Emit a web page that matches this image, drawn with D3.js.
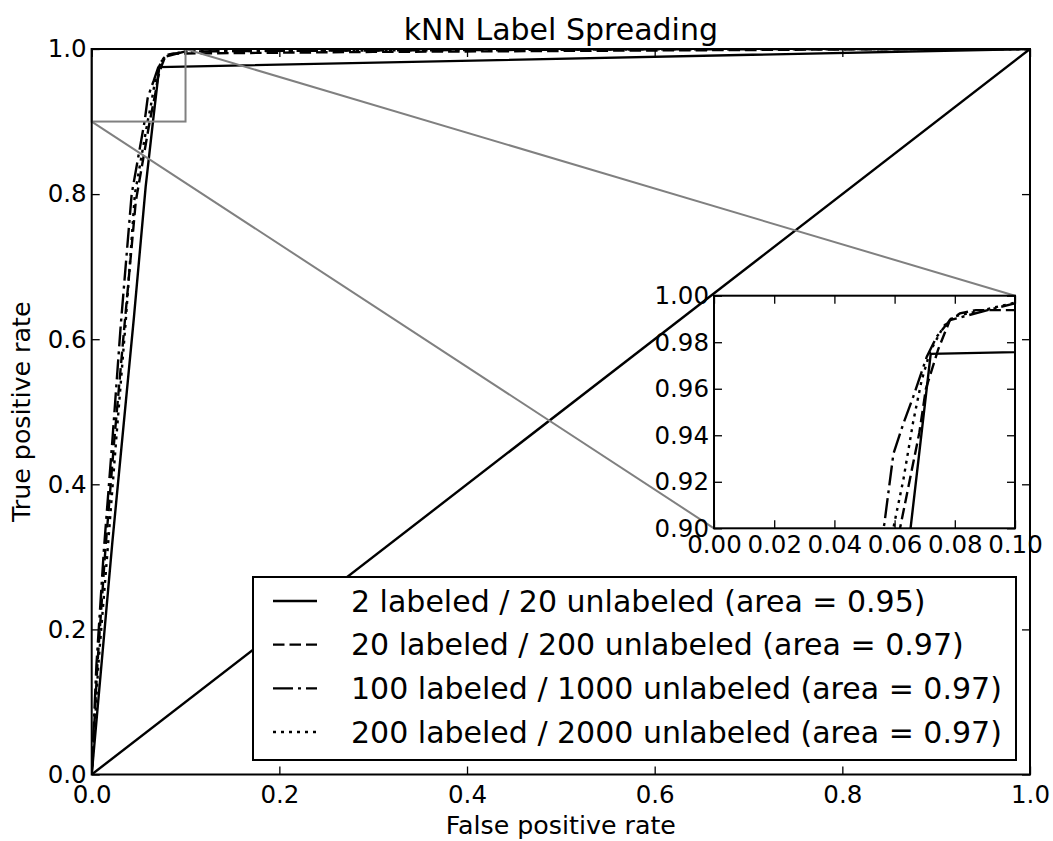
<!DOCTYPE html>
<html>
<head>
<meta charset="utf-8">
<script src="https://cdn.jsdelivr.net/npm/d3@7"></script>
<style>
  body { margin: 0; background: #fff; }
  svg { display: block; }
  text { font-family: "DejaVu Sans", sans-serif; fill: #000; }
</style>
</head>
<body>
<svg id="chart" width="1053" height="841"></svg>
<script>
// ---- data ----
let seriesLabels = [
  '2 labeled / 20 unlabeled (area = 0.95)',
  '20 labeled / 200 unlabeled (area = 0.97)',
  '100 labeled / 1000 unlabeled (area = 0.97)',
  '200 labeled / 2000 unlabeled (area = 0.97)'
]

let fpr2 = [0, 0.022, 0.045, 0.0575, 0.0653, 0.072, 1.0]
let tpr2 = [0, 0.32, 0.63, 0.81, 0.90, 0.975, 1.0]

let fpr20 = [0, 0.002, 0.006, 0.014, 0.024, 0.035, 0.047, 0.0618, 0.0682, 0.0704, 0.0745, 0.0784, 0.0817, 0.087, 0.1, 0.3, 0.6, 0.9, 1.0]
let tpr20 = [0, 0.05, 0.15, 0.30, 0.46, 0.62, 0.79, 0.90, 0.941, 0.96, 0.977, 0.9896, 0.9924, 0.9938, 0.9938, 0.996, 0.998, 1.0, 1.0]

let fpr100 = [0, 0.002, 0.005, 0.013, 0.022, 0.031, 0.0426, 0.0566, 0.0596, 0.0629, 0.0662, 0.0707, 0.074, 0.0784, 0.09, 0.1, 0.3, 0.6, 0.8, 1.0]
let tpr100 = [0, 0.06, 0.15, 0.31, 0.46, 0.62, 0.80, 0.902, 0.932, 0.945, 0.9566, 0.9738, 0.9824, 0.9895, 0.9935, 0.9967, 0.998, 0.9995, 1.0, 1.0]

let fpr200 = [0, 0.003, 0.007, 0.017, 0.026, 0.036, 0.046, 0.0599, 0.0629, 0.0662, 0.069, 0.0718, 0.0762, 0.0795, 0.09, 0.1, 0.3, 0.6, 0.8, 1.0]
let tpr200 = [0, 0.06, 0.15, 0.31, 0.46, 0.62, 0.80, 0.9021, 0.9208, 0.946, 0.9637, 0.976, 0.9867, 0.991, 0.994, 0.997, 0.998, 0.9995, 1.0, 1.0]

let mainTicks = [0, 0.2, 0.4, 0.6, 0.8, 1.0]
let insetXTicks = [0, 0.02, 0.04, 0.06, 0.08, 0.1]
let insetYTicks = [0.90, 0.92, 0.94, 0.96, 0.98, 1.00]

// ---- styles ----
let dashes = ['none', '11.5,5', '20,5,3,5', '3,5']
let lw = 2.4

let series = [
  {fpr: fpr2, tpr: tpr2},
  {fpr: fpr20, tpr: tpr20},
  {fpr: fpr100, tpr: tpr100},
  {fpr: fpr200, tpr: tpr200}
].map((s, i) => ({
  label: seriesLabels[i],
  dash: dashes[i],
  pts: s.fpr.map((f, j) => [f, s.tpr[j]])
}))

let svg = d3.select('#chart')

let M = {left: 91.7, right: 1030, top: 49, bottom: 774.5}
let I = {left: 714, right: 1015, top: 295.7, bottom: 528.3}

let x = d3.scaleLinear().domain([0, 1]).range([M.left, M.right])
let y = d3.scaleLinear().domain([0, 1]).range([M.bottom, M.top])
let ix = d3.scaleLinear().domain([0, 0.1]).range([I.left, I.right])
let iy = d3.scaleLinear().domain([0.9, 1]).range([I.bottom, I.top])

let defs = svg.append('defs')
defs.append('clipPath').attr('id', 'clipMain').append('rect')
  .attr('x', M.left).attr('y', M.top)
  .attr('width', M.right - M.left).attr('height', M.bottom - M.top)
defs.append('clipPath').attr('id', 'clipInset').append('rect')
  .attr('x', I.left).attr('y', I.top)
  .attr('width', I.right - I.left).attr('height', I.bottom - I.top)

// ---- main axes ----
let main = svg.append('g')

let lineMain = d3.line().x(d => x(d[0])).y(d => y(d[1]))

let mainCurves = main.append('g').attr('clip-path', 'url(#clipMain)')
mainCurves.selectAll('path.roc').data(series).enter().append('path')
  .attr('class', 'roc')
  .attr('d', d => lineMain(d.pts))
  .attr('fill', 'none')
  .attr('stroke', '#000')
  .attr('stroke-width', lw)
  .attr('stroke-dasharray', d => d.dash)

mainCurves.append('path')
  .datum([[0, 0], [1, 1]])
  .attr('d', lineMain)
  .attr('fill', 'none')
  .attr('stroke', '#000')
  .attr('stroke-width', lw)

// zoom box and connectors (gray)
main.append('rect')
  .attr('x', x(0)).attr('y', y(1))
  .attr('width', x(0.1) - x(0)).attr('height', y(0.9) - y(1))
  .attr('fill', 'none').attr('stroke', '#808080').attr('stroke-width', 2)

main.append('line')
  .attr('x1', x(0)).attr('y1', y(0.9))
  .attr('x2', ix(0)).attr('y2', iy(0.9))
  .attr('stroke', '#808080').attr('stroke-width', 2)

main.append('line')
  .attr('x1', x(0.1)).attr('y1', y(1))
  .attr('x2', ix(0.1)).attr('y2', iy(1))
  .attr('stroke', '#808080').attr('stroke-width', 2)

function drawAxes(g, sx, sy, xt, yt, xfmt, yfmt, box, xpad) {
  g.append('g')
    .attr('transform', `translate(0,${box.bottom})`)
    .call(d3.axisBottom(sx).tickValues(xt).tickFormat(xfmt).tickSizeInner(-8).tickSizeOuter(0).tickPadding(xpad))
  g.append('g')
    .attr('transform', `translate(0,${box.top})`)
    .call(d3.axisTop(sx).tickValues(xt).tickFormat('').tickSizeInner(-8).tickSizeOuter(0))
  g.append('g')
    .attr('transform', `translate(${box.left},0)`)
    .call(d3.axisLeft(sy).tickValues(yt).tickFormat(yfmt).tickSizeInner(-8).tickSizeOuter(0).tickPadding(5))
  g.append('g')
    .attr('transform', `translate(${box.right},0)`)
    .call(d3.axisRight(sy).tickValues(yt).tickFormat('').tickSizeInner(-8).tickSizeOuter(0))

  g.selectAll('.domain').remove()
  g.selectAll('.tick line').attr('stroke', '#000').attr('stroke-width', 1.3)
  g.selectAll('.tick text')
    .style('font-family', '"DejaVu Sans", sans-serif')
    .style('font-size', '24.5px')
    .attr('fill', '#000')

  g.append('rect')
    .attr('x', box.left).attr('y', box.top)
    .attr('width', box.right - box.left).attr('height', box.bottom - box.top)
    .attr('fill', 'none').attr('stroke', '#000').attr('stroke-width', 2)
}

drawAxes(main, x, y, mainTicks, mainTicks, d3.format('.1f'), d3.format('.1f'), M, 11)

// title & labels
svg.append('text')
  .attr('x', (M.left + M.right) / 2).attr('y', 40)
  .attr('text-anchor', 'middle')
  .style('font-size', '30px')
  .text('kNN Label Spreading')

svg.append('text')
  .attr('x', (M.left + M.right) / 2).attr('y', 834)
  .attr('text-anchor', 'middle')
  .style('font-size', '25.3px')
  .text('False positive rate')

svg.append('text')
  .attr('transform', `translate(30,${(M.top + M.bottom) / 2}) rotate(-90)`)
  .attr('text-anchor', 'middle')
  .style('font-size', '25.3px')
  .text('True positive rate')

// legend
let leg = svg.append('g')
leg.append('rect')
  .attr('x', 253).attr('y', 577).attr('width', 763).attr('height', 183)
  .attr('fill', '#fff').attr('stroke', '#000').attr('stroke-width', 2)

let rowY = d3.scalePoint().domain(d3.range(series.length)).range([601, 732])

let rows = leg.selectAll('g.row').data(series).enter().append('g')
  .attr('class', 'row')
  .attr('transform', (d, i) => `translate(0,${rowY(i)})`)

rows.append('line')
  .attr('x1', 273).attr('x2', 317)
  .attr('stroke', '#000').attr('stroke-width', lw)
  .attr('stroke-dasharray', d => d.dash)

rows.append('text')
  .attr('x', 351).attr('y', 10.7)
  .style('font-size', '30px')
  .text(d => d.label)

// ---- inset axes ----
let inset = svg.append('g')
inset.append('rect')
  .attr('x', I.left).attr('y', I.top)
  .attr('width', I.right - I.left).attr('height', I.bottom - I.top)
  .attr('fill', '#fff')

let lineInset = d3.line().x(d => ix(d[0])).y(d => iy(d[1]))

inset.append('g').attr('clip-path', 'url(#clipInset)')
  .selectAll('path').data(series).enter().append('path')
  .attr('d', d => lineInset(d.pts))
  .attr('fill', 'none')
  .attr('stroke', '#000')
  .attr('stroke-width', lw)
  .attr('stroke-dasharray', d => d.dash)

drawAxes(inset, ix, iy, insetXTicks, insetYTicks, d3.format('.2f'), d3.format('.2f'), I, 7)
</script>
</body>
</html>
